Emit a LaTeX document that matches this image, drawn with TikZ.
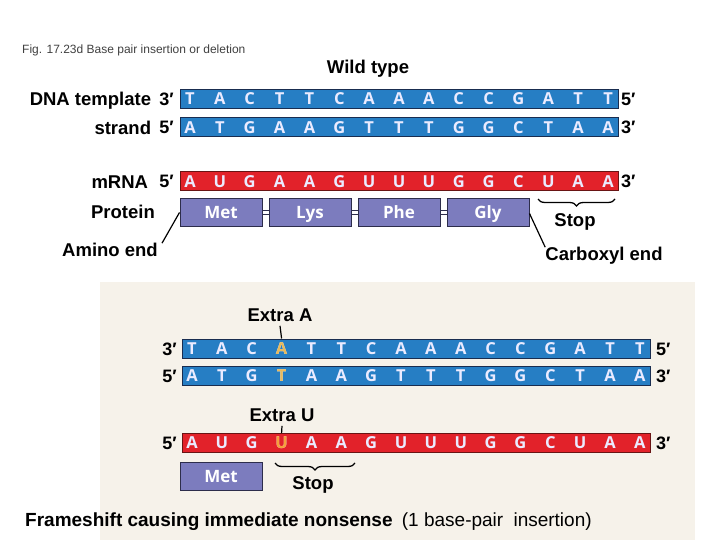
\documentclass[tikz,border=0pt]{standalone}
\usepackage{fontspec}
\setmainfont{Liberation Sans}
\newfontfamily\basefont{Open Sans}
\usetikzlibrary{positioning}
\usetikzlibrary{decorations.pathreplacing}
\definecolor{dnablue}{RGB}{38,126,196}
\definecolor{dnaedge}{RGB}{25,45,80}
\definecolor{rnared}{RGB}{226,34,42}
\definecolor{rnaedge}{RGB}{105,20,20}
\definecolor{protfill}{RGB}{124,124,190}
\definecolor{protedge}{RGB}{45,45,75}
\definecolor{extraA}{RGB}{232,186,92}
\definecolor{extraU}{RGB}{246,160,60}
\definecolor{panel}{RGB}{246,242,234}
\tikzset{x=1pt, y=-1pt, node distance=4pt, inner sep=0pt}
\tikzstyle{dna} = [draw=dnaedge, fill=dnablue, line width=1pt, rectangle, minimum height=19pt, anchor=west]
\tikzstyle{rna} = [draw=rnaedge, fill=rnared, line width=1pt, rectangle, minimum height=19pt, anchor=west]
\tikzstyle{base} = [text=white!92!blue, font=\basefont\bfseries\fontsize{16.5}{16.5}\selectfont, text height=11.8pt, text depth=0pt]
\tikzstyle{protein} = [draw=protedge, fill=protfill, line width=1pt, rectangle, minimum width=82pt, minimum height=28pt, text=white, font=\basefont\bfseries\fontsize{17}{17}\selectfont, text height=12.2pt, text depth=0pt]
\tikzstyle{lbl} = [font=\bfseries\fontsize{18.5}{18.5}\selectfont, text height=13.2pt, text depth=0pt]
\tikzstyle{prime} = [font=\bfseries\fontsize{18}{18}\selectfont, text height=13pt, text depth=0pt]
\tikzstyle{stopbrace} = [decorate, decoration={brace, mirror, amplitude=7pt}, line width=1.3pt]

\begin{document}
\begin{tikzpicture}
    \useasboundingbox (0,0) rectangle (720,540);
    \fill [panel] (100,282) rectangle (695,540);

    \node [anchor=west, text=black!75, font=\fontsize{12}{12}\selectfont] (title) at (22,50) {Fig. 17.23d Base pair insertion or deletion};
    \node [lbl] (wild) at (368,67) {Wild type};

    % wild type
    \node [dna, minimum width=438pt] (wtTop) at (180,99) {};
    \node [dna, minimum width=438pt] (wtBot) at (180,127.5) {};
    \node [rna, minimum width=438pt] (wtRna) at (180,181.5) {};
    \foreach \b [count=\i from 0] in {T,A,C,T,T,C,A,A,A,C,C,G,A,T,T}
        \node [base] (wtTop-\i) at ([xshift={10pt+\i*29.86pt}]wtTop.west) {\b};
    \foreach \b [count=\i from 0] in {A,T,G,A,A,G,T,T,T,G,G,C,T,A,A}
        \node [base] (wtBot-\i) at ([xshift={10pt+\i*29.86pt}]wtBot.west) {\b};
    \foreach \b [count=\i from 0] in {A,U,G,A,A,G,U,U,U,G,G,C,U,A,A}
        \node [base] (wtRna-\i) at ([xshift={10pt+\i*29.86pt}]wtRna.west) {\b};

    \node [prime, left=6pt of wtTop] (wtTopL) {3′};
    \node [prime, right=2pt of wtTop] (wtTopR) {5′};
    \node [prime, left=6pt of wtBot] (wtBotL) {5′};
    \node [prime, right=2pt of wtBot] (wtBotR) {3′};
    \node [prime, left=6pt of wtRna] (wtRnaL) {5′};
    \node [prime, right=2pt of wtRna] (wtRnaR) {3′};
    \node [lbl, left=8pt of wtTopL] (template) {DNA template};
    \node [lbl, left=8pt of wtBotL] (strand) {strand};
    \node [lbl, left=11pt of wtRnaL] (mrna) {mRNA};

    \node [protein] (met) at (221,212.5) {Met};
    \node [protein] (lys) at (310,212.5) {Lys};
    \node [protein] (phe) at (399,212.5) {Phe};
    \node [protein] (gly) at (488,212.5) {Gly};
    \foreach \a/\b in {met/lys, lys/phe, phe/gly} {
        \draw [protedge, line width=1pt] ([yshift=2pt]\a.east) -- ([yshift=2pt]\b.west);
        \draw [protedge, line width=1pt] ([yshift=-2pt]\a.east) -- ([yshift=-2pt]\b.west);
    }
    \node [lbl, anchor=east] (protlbl) at (155,212) {Protein};
    \node [lbl] (amino) at (110,250) {Amino end};
    \node [lbl] (carboxyl) at (604,254) {Carboxyl end};
    \draw [line width=1.2pt] ([xshift=4pt]amino.north east) -- (met.west);
    \draw [line width=1.2pt] ([yshift=-1pt]gly.east) -- (carboxyl.north west);

    \draw [stopbrace] (538,199) -- (615,199);
    \node [lbl] (wtStop) at (575,220) {Stop};

    % frameshift
    \node [lbl] (extA) at (280,315) {Extra A};
    \node [dna, minimum width=468pt] (muTop) at (182,348.5) {};
    \node [dna, minimum width=468pt] (muBot) at (182,376) {};
    \foreach \b [count=\i from 0] in {T,A,C,A,T,T,C,A,A,A,C,C,G,A,T,T}
        \node [base] (muTop-\i) at ([xshift={10pt+\i*29.86pt}]muTop.west) {\b};
    \foreach \b [count=\i from 0] in {A,T,G,T,A,A,G,T,T,T,G,G,C,T,A,A}
        \node [base] (muBot-\i) at ([xshift={10pt+\i*29.86pt}]muBot.west) {\b};
    \node [base, text=extraA] at (muTop-3) {A};
    \node [base, text=extraA] at (muBot-3) {T};
    \draw [line width=1.2pt] (extA.south) ++(0,-4pt) -- (muTop.north -| muTop-3);

    \node [prime, left=5pt of muTop] (muTopL) {3′};
    \node [prime, right=5pt of muTop] (muTopR) {5′};
    \node [prime, left=5pt of muBot] (muBotL) {5′};
    \node [prime, right=5pt of muBot] (muBotR) {3′};

    \node [lbl] (extU) at (282,415) {Extra U};
    \node [rna, minimum width=468pt] (muRna) at (182,443) {};
    \foreach \b [count=\i from 0] in {A,U,G,U,A,A,G,U,U,U,G,G,C,U,A,A}
        \node [base] (muRna-\i) at ([xshift={10pt+\i*29.86pt}]muRna.west) {\b};
    \node [base, text=extraU] at (muRna-3) {U};
    \draw [line width=1.2pt] (extU.south) ++(0,-4pt) -- (muRna.north -| muRna-3);
    \node [prime, left=5pt of muRna] (muRnaL) {5′};
    \node [prime, right=5pt of muRna] (muRnaR) {3′};

    \node [protein] (muMet) at (221,476.5) {Met};
    \draw [stopbrace] (275,463) -- (355,463);
    \node [lbl] (muStop) at (313,483) {Stop};

    \node [anchor=west, font=\fontsize{19}{19}\selectfont, text height=13.5pt, text depth=0pt] (caption) at (25,520) {\textbf{Frameshift causing immediate nonsense}\hspace{4pt} (1 base-pair\hspace{5pt} insertion)};
\end{tikzpicture}
\end{document}
